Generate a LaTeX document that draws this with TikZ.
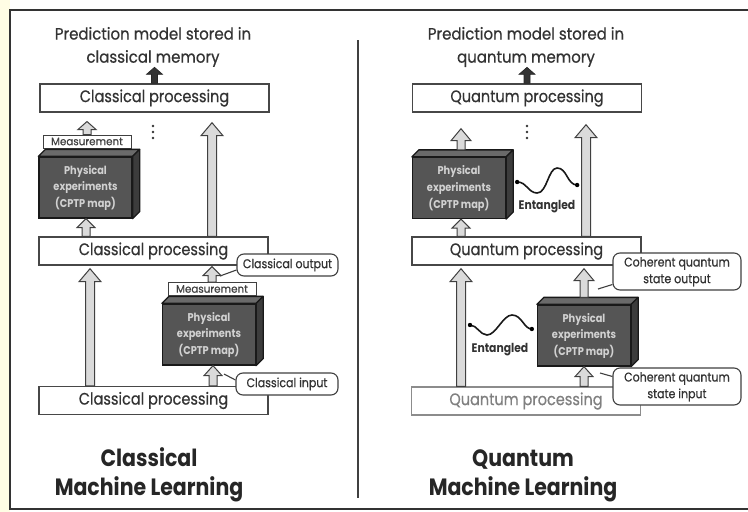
\documentclass[tikz,border=0pt]{standalone}
\usepackage{fontspec}
\setmainfont{Poppins}
\newfontfamily\medium{Poppins}[FakeBold=0.6]
\usetikzlibrary{calc}
\definecolor{physfront}{HTML}{555555}
\definecolor{phystop}{HTML}{6A6A6A}
\definecolor{physside}{HTML}{3C3C3C}
\definecolor{arrfill}{HTML}{DADADA}
\definecolor{paleyellow}{HTML}{FFFDE4}
\newcommand\vs[2][1.15]{\scalebox{1}[#1]{#2}}
\newcommand\vsl[2][1.15]{\scalebox{1}[#1]{\begin{tabular}{@{}c@{}}#2\end{tabular}}}
% upward block arrow: [style]{from}{tip}{head length}{head half width}{shaft half width}
\newcommand\arrowup[6][fatarrow]{\draw[#1] let \p1=#2, \p2=#3 in
  (\x1-#6,\y1) -- (\x1-#6,\y2-#4) -- (\x1-#5,\y2-#4) -- (\x1,\y2) --
  (\x1+#5,\y2-#4) -- (\x1+#6,\y2-#4) -- (\x1+#6,\y1) -- cycle;}
\newcommand\physbox[2]{%
  \node[phys] (#1) at #2 {\vsl{Physical\\experiments\\(CPTP map)}};
  \draw[physedge, fill=phystop] (#1.north west) -- ++(7,-7) -- ($(#1.north east)+(7,-7)$) -- (#1.north east) -- cycle;
  \draw[physedge, fill=physside] (#1.north east) -- ++(7,-7) -- ($(#1.south east)+(7,-7)$) -- (#1.south east) -- cycle;}
\begin{document}
\begin{tikzpicture}[x=1pt,y=-1pt,
  procbox/.style={draw=black!72, line width=1.4pt, fill=white, minimum width=229pt,
    minimum height=28pt, inner sep=0pt, font=\medium\fontsize{14.5}{16}\selectfont, text=black!80},
  graybox/.style={procbox, draw=black!45, text=black!50},
  measbox/.style={draw=black!75, line width=1pt, fill=white, minimum width=88pt,
    minimum height=13pt, inner sep=0pt, font=\medium\fontsize{10.3}{10.5}\selectfont, text=black!75},
  phys/.style={draw=black!90, line width=1.3pt, fill=physfront, minimum width=93pt,
    minimum height=61pt, inner sep=0pt, text=black!18, font=\bfseries\fontsize{9.8}{14.5}\selectfont},
  physedge/.style={draw=black!90, line width=1.3pt, line join=round},
  callout/.style={draw=black!75, line width=1.1pt, fill=white, rounded corners=7pt,
    inner sep=0pt, font=\medium\fontsize{11}{14.5}\selectfont, text=black!80, align=center},
  fatarrow/.style={draw=black!75, fill=arrfill, line width=1pt, line join=miter},
  darkarrow/.style={draw=black!85, fill=black!80, line width=0.6pt},
  titletext/.style={font=\medium\fontsize{15}{21}\selectfont, text=black!80, align=center},
  bigtitle/.style={font=\bfseries\fontsize{20.5}{25}\selectfont, text=black!85, align=center},
  enttext/.style={font=\bfseries\fontsize{10.8}{12}\selectfont, text=black!80},
  wave/.style={line width=1.6pt, black!90},
  leader/.style={line width=1.1pt, black!75}]
\useasboundingbox (0,0) rectangle (748,512);
\fill[paleyellow] (0,0) rectangle (10,512);
\fill[white] (10,0) rectangle (748,512);
% frame and divider
\draw[line width=1.5pt, black!80] (10,10) rectangle (760,509);
\draw[line width=1.5pt, black!75] (358,40) -- (358,498);

% ================= LEFT: classical =================
\node[titletext] (ltitle) at (153,46.5) {\vsl[1.1]{Prediction model stored in\\classical memory}};
\node[procbox] (ltop) at (154.5,98) {\vs{Classical processing}};
\node[procbox] (lmid) at (153.5,251) {\vs{Classical processing}};
\node[procbox] (lbot) at (153.5,400.5) {\vs{Classical processing}};
\arrowup[darkarrow]{(ltop.north)}{($(ltop.north)+(0,-16)$)}{7pt}{8pt}{3pt}
\fill[black!80] (153,126) circle (1.4) (153,132) circle (1.4) (153,138) circle (1.4);

% long arrows
\arrowup{($(lmid.north)+(58.5,0)$)}{($(ltop.south)+(57.5,10)$)}{13pt}{11pt}{4.5pt}
\arrowup{($(lbot.north)+(-63.5,0)$)}{($(lmid.south)+(-63.5,3)$)}{13pt}{11pt}{4.5pt}

% upper experiment
\node[measbox] (lmeas1) at (87,141.5) {\vs[1.05]{Measurement}};
\physbox{lphys1}{(85.5,187.5)}
\arrowup{(lmeas1.north)}{($(lmeas1.north)+(0,-13)$)}{8pt}{9pt}{4pt}
\arrowup{(lmid.north -| 86,0)}{(lphys1.south -| 86,0)}{9pt}{9pt}{4pt}

% lower experiment
\physbox{lphys2}{(209,334.5)}
\arrowup{(lbot.north -| 213,0)}{(lphys2.south -| 213,0)}{10pt}{9pt}{4pt}
\node[measbox] (lmeas2) at (212,289) {\vs[1.05]{Measurement}};
\arrowup{(lmeas2.north)}{($(lmid.south)+(59.5,1)$)}{9pt}{9pt}{4pt}
\node[callout, minimum width=101pt, minimum height=22pt] (lout) at (287.5,265) {\vs{Classical output}};
\node[callout, minimum width=102pt, minimum height=22pt] (lin) at (287,384) {\vs{Classical input}};
\draw[leader] ($(lout.west)+(0,5)$) -- (220,276);
\draw[leader] ($(lin.west)+(0,-4)$) -- (224,374);

\node[bigtitle] (lname) at (149,475) {\vsl{Classical\\Machine Learning}};

% ================= RIGHT: quantum =================
\node[titletext] (rtitle) at (526,46.5) {\vsl[1.1]{Prediction model stored in\\quantum memory}};
\node[procbox] (rtop) at (527,98) {\vs{Quantum processing}};
\node[procbox] (rmid) at (526.5,251) {\vs{Quantum processing}};
\node[graybox] (rbot) at (526,401) {\vs{Quantum processing}};
\arrowup[darkarrow]{(rtop.north)}{($(rtop.north)+(0,-16)$)}{7pt}{8pt}{3pt}
\fill[black!80] (527,126) circle (1.4) (527,132) circle (1.4) (527,138) circle (1.4);

% long arrows
\arrowup{(rmid.north -| 586,0)}{($(rtop.south -| 586,0)+(0,12)$)}{13pt}{11pt}{4.5pt}
\arrowup{(rbot.north -| 461,0)}{($(rmid.south -| 461,0)+(0,3)$)}{13pt}{11pt}{4.5pt}

% upper experiment
\physbox{rphys1}{(459,188)}
\arrowup{(rmid.north -| 461,0)}{(rphys1.south -| 461,0)}{9pt}{9pt}{4pt}
\arrowup{($(rphys1.north -| 461,0)+(0,-7)$)}{($(rtop.south -| 461,0)+(0,16)$)}{12pt}{10pt}{4pt}
\coordinate (w1a) at ($(rphys1.east)+(11,-6)$);
\coordinate (w1b) at ($(rphys1.east)+(71,-3)$);
\draw[wave] (w1a) .. controls ($(w1a)+(10,0)$) and ($(w1a)+(11,11)$) .. ($(w1a)+(20,11)$)
  .. controls ($(w1a)+(30,11)$) and ($(w1a)+(31,-14)$) .. ($(w1a)+(40,-14)$)
  .. controls ($(w1a)+(50,-14)$) and ($(w1b)+(-10,0)$) .. (w1b);
\fill[black] (w1a) circle (2.2) (w1b) circle (2.2);
\node[enttext] (ent1) at (547,207) {\vs{Entangled}};

% lower experiment
\physbox{rphys2}{(584,335.5)}
\arrowup{(rbot.north -| 584,0)}{(rphys2.south -| 584,0)}{10pt}{9pt}{4pt}
\arrowup{($(rphys2.north -| 584,0)+(0,-7)$)}{($(rmid.south -| 584,0)+(0,3)$)}{12pt}{10pt}{4pt}
\coordinate (w2a) at (470,325);
\coordinate (w2b) at ($(rphys2.west)+(-5,-6.5)$);
\draw[wave] (w2a) .. controls ($(w2a)+(7,0)$) and ($(w2a)+(10,10)$) .. ($(w2a)+(17,10)$)
  .. controls ($(w2a)+(26,10)$) and ($(w2a)+(33,-10)$) .. ($(w2a)+(42,-10)$)
  .. controls ($(w2a)+(52,-10)$) and ($(w2b)+(-8,0)$) .. (w2b);
\fill[black] (w2a) circle (2.2) (w2b) circle (2.2);
\node[enttext] (ent2) at (500,350) {\vs{Entangled}};
\node[callout, minimum width=128pt, minimum height=37pt] (rout) at (677,271.5) {\vsl{Coherent quantum\\state output}};
\node[callout, minimum width=128pt, minimum height=37pt] (rin) at (677,386.5) {\vsl{Coherent quantum\\state input}};
\draw[leader] ($(rout.west)+(0,13)$) -- (598,289);
\draw[leader] ($(rin.west)+(0,-10)$) -- (600,373);

\node[bigtitle] (rname) at (523,475) {\vsl{Quantum\\Machine Learning}};
\end{tikzpicture}
\end{document}
